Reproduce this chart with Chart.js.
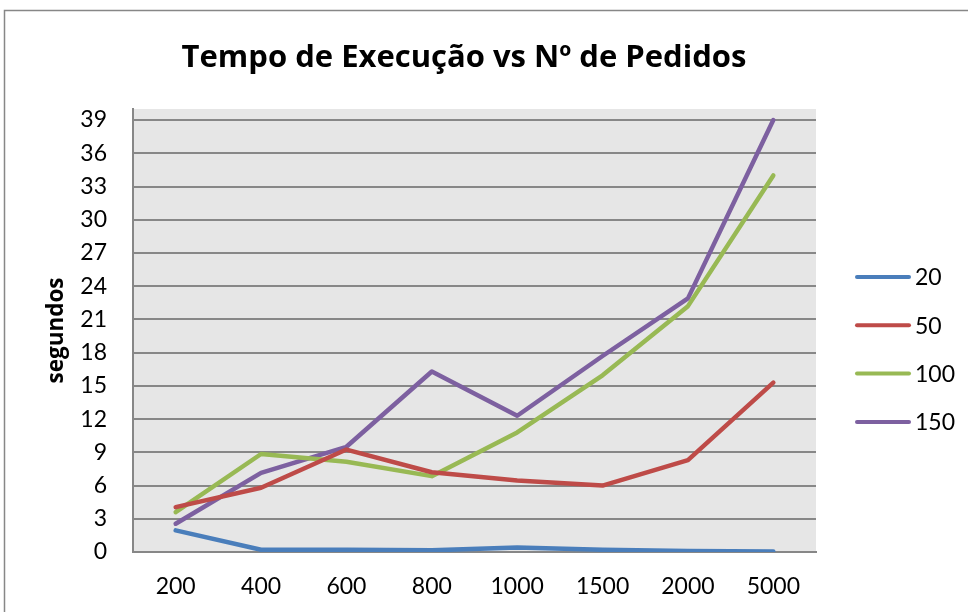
<!DOCTYPE html>
<html>
<head>
<meta charset="utf-8">
<script src="https://cdn.jsdelivr.net/npm/chart.js@4/dist/chart.umd.min.js"></script>
<style>
  html, body { margin: 0; padding: 0; background: #fff; }
  #wrap { width: 968px; height: 612px; }
</style>
</head>
<body>
<div id="wrap"><canvas id="tempo-chart" width="968" height="612"></canvas></div>
<script>
// número de pedidos (eixo X)
const pedidos = ['200', '400', '600', '800', '1000', '1500', '2000', '5000'];

// tempos em segundos por série
const serie20  = [1.95, 0.2, 0.2, 0.15, 0.4, 0.2, 0.1, 0.05];
const serie50  = [4.05, 5.8, 9.25, 7.2, 6.45, 6.0, 8.3, 15.3];
const serie100 = [3.6, 8.85, 8.15, 6.85, 10.8, 15.95, 22.2, 34.0];
const serie150 = [2.55, 7.15, 9.5, 16.3, 12.3, 17.7, 22.9, 39.0];

const nomes  = ['20', '50', '100', '150'];
const cores  = ['#4a7ebb', '#be4b48', '#98b954', '#7d60a0'];

const titulo   = 'Tempo de Execução vs Nº de Pedidos';
const tituloY  = 'segundos';
const fonte    = 'Lato, "Open Sans", sans-serif';
const fonteNegrito = '"Open Sans", Lato, sans-serif';

// moldura, título, rótulo do eixo Y e legenda
const extras = {
  id: 'extras',
  beforeDraw: function(chart) {
    const ctx = chart.ctx;
    const a = chart.chartArea;
    ctx.save();
    ctx.fillStyle = '#e6e6e6';
    ctx.fillRect(a.left, a.top, a.right - a.left, a.bottom - a.top);
    ctx.restore();
  },
  afterDraw: function(chart) {
    const ctx = chart.ctx;
    const a = chart.chartArea;
    ctx.save();

    ctx.strokeStyle = '#878787';
    ctx.lineWidth = 1.5;
    ctx.strokeRect(4.5, 10.5, 1100, 1100);

    ctx.fillStyle = '#000';
    ctx.font = 'bold 31px ' + fonteNegrito;
    ctx.textAlign = 'center';
    ctx.textBaseline = 'alphabetic';
    ctx.fillText(titulo, 464, 67);

    ctx.save();
    ctx.translate(57, (a.top + a.bottom) / 2);
    ctx.rotate(-Math.PI / 2);
    ctx.font = 'bold 22.5px ' + fonteNegrito;
    ctx.textBaseline = 'middle';
    ctx.fillText(tituloY, 0, 0);
    ctx.restore();

    ctx.font = '23px ' + fonte;
    ctx.textAlign = 'left';
    ctx.textBaseline = 'middle';
    ctx.lineCap = 'round';
    ctx.lineWidth = 4;
    chart.data.datasets.forEach(function(ds, i) {
      const y = 277 + i * 48.3;
      ctx.strokeStyle = ds.borderColor;
      ctx.beginPath();
      ctx.moveTo(857, y);
      ctx.lineTo(909, y);
      ctx.stroke();
      ctx.fillText(ds.label, 915, y + 1);
    });
    ctx.restore();
  }
};

const series = [serie20, serie50, serie100, serie150];

new Chart(document.getElementById('tempo-chart'), {
  type: 'line',
  data: {
    labels: pedidos,
    datasets: series.map(function(valores, i) {
      return {
        label: nomes[i],
        data: valores,
        borderColor: cores[i],
        backgroundColor: cores[i],
        borderWidth: 4.5,
        borderCapStyle: 'round',
        borderJoinStyle: 'round',
        pointRadius: 0,
        tension: 0,
        fill: false
      };
    })
  },
  options: {
    responsive: false,
    animation: false,
    layout: { padding: { left: 0, top: 109, right: 152, bottom: 0 } },
    plugins: {
      legend: { display: false },
      title: { display: false },
      tooltip: { enabled: false }
    },
    scales: {
      x: {
        offset: true,
        grid: { display: false, drawTicks: false },
        border: { display: true, color: '#878787', width: 2 },
        ticks: { color: '#000', font: { family: fonte, size: 23 }, padding: 21, maxRotation: 0 },
        afterFit: function(scale) { scale.height = 60; }
      },
      y: {
        min: 0,
        max: 40,
        grid: { color: '#878787', lineWidth: 2, drawTicks: false },
        border: { display: true, color: '#878787', width: 2 },
        ticks: { stepSize: 3, includeBounds: false, color: '#000', font: { family: fonte, size: 23 }, padding: 26 },
        afterFit: function(scale) { scale.width = 133; }
      }
    }
  },
  plugins: [extras]
});
</script>
</body>
</html>
